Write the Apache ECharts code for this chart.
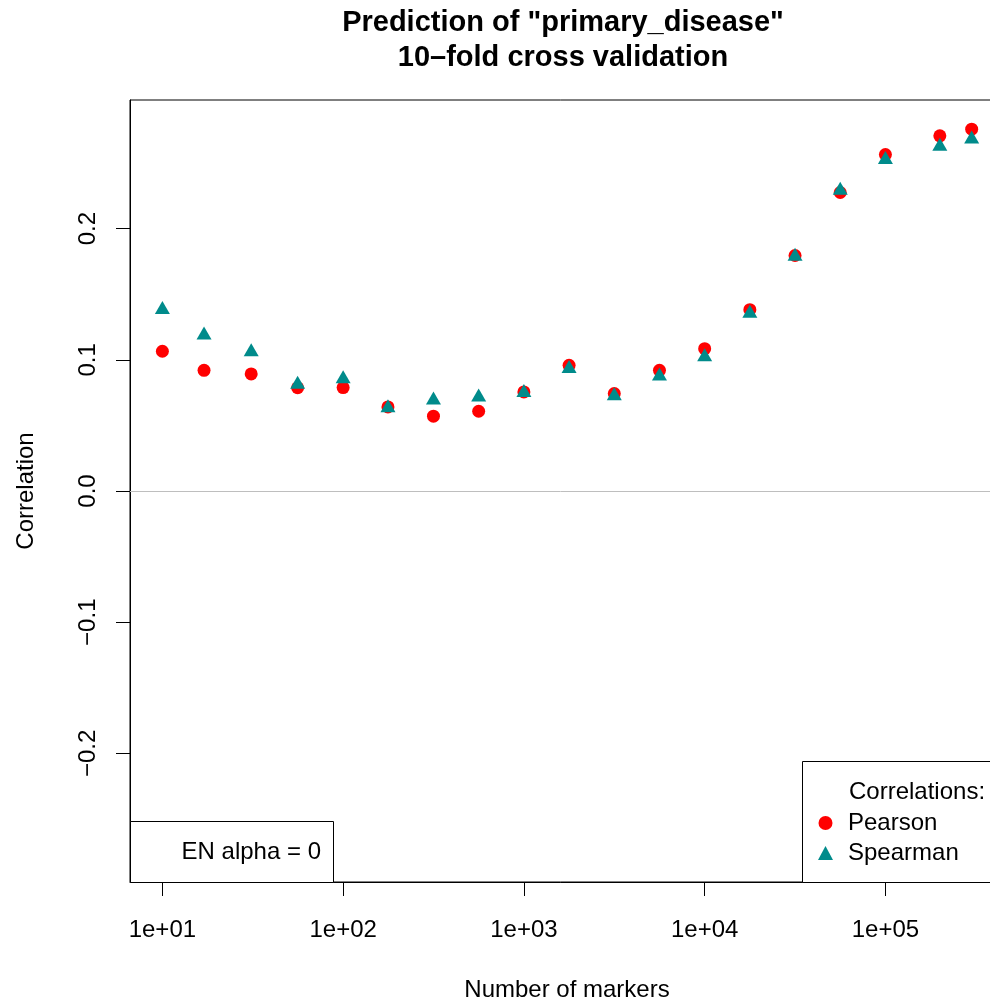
<!DOCTYPE html>
<html>
<head>
<meta charset="utf-8">
<script src="https://cdn.jsdelivr.net/npm/echarts@6.0.0/dist/echarts.min.js"></script>
<style>
	html, body { margin: 0; padding: 0; background: #fff; }
	#chart { width: 990px; height: 1002px; }
</style>
</head>
<body>
<div id="chart"></div>
<script>
	// number of markers (x, log scale)
	let markers = [10, 17, 31, 56, 100, 177, 316, 562, 1000, 1778, 3162, 5623, 10000, 17782, 31622, 56234, 100000, 200000, 300000];
	// correlations
	let pearson = [0.1065, 0.092, 0.0892, 0.0787, 0.0788, 0.0641, 0.057, 0.0608, 0.0755, 0.0958, 0.0743, 0.092, 0.1085, 0.1382, 0.1795, 0.2275, 0.2564, 0.2707, 0.2758];
	let spearman = [0.1384, 0.1189, 0.1062, 0.0814, 0.0856, 0.0635, 0.0693, 0.0717, 0.0751, 0.0933, 0.0726, 0.0877, 0.1024, 0.1354, 0.179, 0.2292, 0.2527, 0.2628, 0.2682];
	// tick labels
	let x_ticks = [10, 100, 1000, 10000, 100000];
	let y_ticks = [-0.2, -0.1, 0, 0.1, 0.2];

	let font = "'Liberation Sans', Arial, Helvetica, sans-serif";
	let chart = echarts.init(document.getElementById('chart'), null, {renderer: 'canvas'});

	let options = {
		animation: false,
		backgroundColor: '#fff',
		textStyle: {fontFamily: font, color: '#000'},
		title: {
			text: 'Prediction of "primary_disease"\n10\u2013fold cross validation',
			left: 563,
			top: 5,
			padding: 0,
			textAlign: 'center',
			textStyle: {fontFamily: font, fontSize: 29, fontWeight: 'bold', color: '#000', lineHeight: 35}
		},
		// plot region runs past the right edge of the picture
		grid: {
			left: 130,
			top: 100,
			width: 874,
			height: 782,
			containLabel: false,
			outerBoundsMode: 'none',
			show: true,
			borderColor: '#000',
			borderWidth: 1
		},
		legend: {
			data: ['Pearson', 'Spearman'],
			orient: 'vertical',
			left: 818,
			top: 811,
			padding: 0,
			itemWidth: 15,
			itemHeight: 14,
			itemGap: 6,
			selectedMode: false,
			textStyle: {fontFamily: font, fontSize: 24, color: '#000', padding: [0, 0, 0, 10]}
		},
		xAxis: {
			type: 'log',
			logBase: 10,
			min: 6.62,
			max: 452900,
			name: 'Number of markers',
			nameLocation: 'middle',
			nameGap: 96,
			nameTextStyle: {fontFamily: font, fontSize: 24, color: '#000'},
			axisLine: {show: true, onZero: false, lineStyle: {color: '#000', width: 1}},
			axisTick: {show: true, length: 14, customValues: x_ticks, lineStyle: {color: '#000'}},
			axisLabel: {
				customValues: x_ticks,
				margin: 36,
				fontSize: 24,
				color: '#000',
				formatter: function(v){
					return '1e+' + String(Math.round(Math.log10(v))).padStart(2, '0');
				}
			},
			splitLine: {show: false}
		},
		yAxis: {
			type: 'value',
			min: -0.298,
			max: 0.298,
			name: 'Correlation',
			nameLocation: 'middle',
			nameGap: 92,
			nameRotate: 90,
			nameTextStyle: {fontFamily: font, fontSize: 24, color: '#000'},
			axisLine: {show: true, onZero: false, lineStyle: {color: '#000', width: 1}},
			axisTick: {show: true, length: 14, customValues: y_ticks, lineStyle: {color: '#000'}},
			axisLabel: {
				customValues: y_ticks,
				rotate: 90,
				margin: 30,
				fontSize: 24,
				color: '#000',
				formatter: function(v){
					return (v < -1e-9 ? '\u2212' : '') + Math.abs(v).toFixed(1);
				}
			},
			splitLine: {show: false}
		},
		graphic: [
			{type: 'rect', z: 3, shape: {x: 802.5, y: 761.5, width: 230, height: 121}, style: {fill: '#fff', stroke: '#000', lineWidth: 1}},
			{type: 'text', z: 5, x: 849, y: 792, style: {text: 'Correlations:', fontFamily: font, fontSize: 24, fill: '#000', verticalAlign: 'middle'}},
			{type: 'rect', z: 3, shape: {x: 130.5, y: 821.5, width: 203, height: 61}, style: {fill: '#fff', stroke: '#000', lineWidth: 1}},
			{type: 'text', z: 5, x: 321, y: 852, style: {text: 'EN alpha = 0', fontFamily: font, fontSize: 24, fill: '#000', align: 'right', verticalAlign: 'middle'}}
		],
		series: [
			{
				name: 'Pearson',
				type: 'scatter',
				symbol: 'circle',
				symbolSize: 13,
				itemStyle: {color: '#ff0000', opacity: 1},
				data: markers.map(function(m, i){ return [m, pearson[i]]; }),
				// grey line at zero
				markLine: {
					silent: true,
					symbol: 'none',
					label: {show: false},
					lineStyle: {color: '#bebebe', width: 1, type: 'solid'},
					data: [{yAxis: 0}]
				}
			},
			{
				name: 'Spearman',
				type: 'scatter',
				symbol: 'triangle',
				symbolSize: [15, 13],
				symbolOffset: [0, -2],
				itemStyle: {color: '#008b8b', opacity: 1},
				data: markers.map(function(m, i){ return [m, spearman[i]]; })
			}
		]
	};
	chart.setOption(options);
</script>
</body>
</html>
